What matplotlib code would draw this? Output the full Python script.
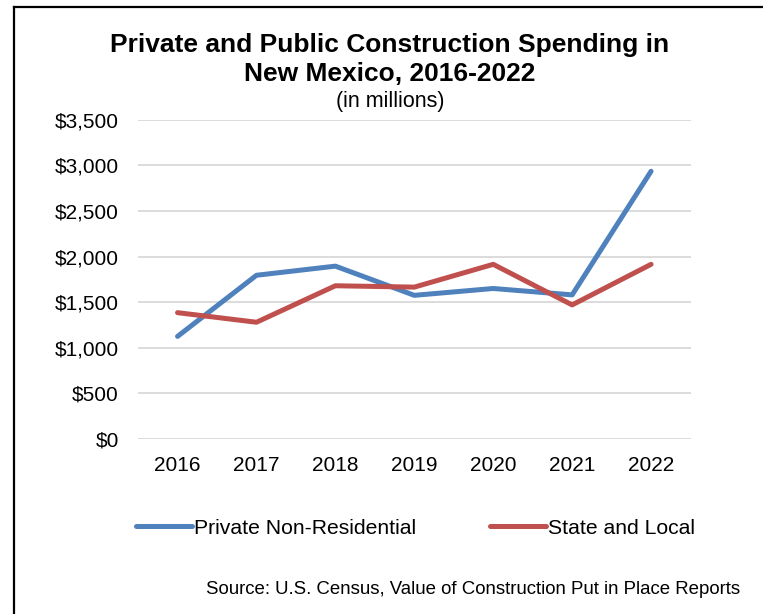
import matplotlib
matplotlib.use("Agg")
import matplotlib.pyplot as plt
from matplotlib.lines import Line2D
from matplotlib.ticker import FuncFormatter

plt.rcParams["font.family"] = ["Liberation Sans", "DejaVu Sans"]

years = ["2016", "2017", "2018", "2019", "2020", "2021", "2022"]
private_nonres = [1125, 1795, 1895, 1575, 1650, 1580, 2935]
state_local = [1385, 1280, 1680, 1665, 1915, 1470, 1915]

BLUE = "#4F81BD"
RED = "#C0504D"

fig = plt.figure(figsize=(7.63, 6.14), dpi=100)
ax = fig.add_axes([0.181, 0.285, 0.724, 0.52])

x = range(len(years))
ax.plot(x, private_nonres, color=BLUE, lw=3.6, solid_capstyle="round",
        label="Private Non-Residential")
ax.plot(x, state_local, color=RED, lw=3.6, solid_capstyle="round",
        label="State and Local")

ax.set_xlim(-0.5, len(years) - 0.5)
ax.set_ylim(0, 3500)
ax.set_yticks(range(0, 3501, 500))
ax.yaxis.set_major_formatter(FuncFormatter(lambda v, _: f"${v:,.0f}"))
ax.set_xticks(list(x))
ax.set_xticklabels(years)
ax.tick_params(axis="both", length=0, labelsize=15, colors="black")
ax.tick_params(axis="y", pad=14)
ax.tick_params(axis="x", pad=12)
ax.grid(axis="y", color="#D9D9D9", lw=1.3)
ax.set_axisbelow(True)
for s in ax.spines.values():
    s.set_visible(False)

fig.text(0.511, 0.903, "Private and Public Construction Spending in\nNew Mexico, 2016-2022",
         ha="center", va="center", fontsize=19, fontweight="bold", linespacing=1.26)
fig.text(0.512, 0.835, "(in millions)", ha="center", va="center", fontsize=15.5)

fig.legend(loc="center", bbox_to_anchor=(0.545, 0.14), ncol=2, frameon=False,
           fontsize=15.2, handlelength=2.65, handletextpad=0.1, columnspacing=3.5)

fig.text(0.97, 0.04, "Source: U.S. Census, Value of Construction Put in Place Reports",
         ha="right", va="center", fontsize=13.4)

# outer frame (only top and left edges visible)
fig.add_artist(Line2D([0.018, 1.0], [0.988, 0.988], color="black", lw=1.6,
                      transform=fig.transFigure))
fig.add_artist(Line2D([0.018, 0.018], [0.0, 0.988], color="black", lw=1.6,
                      transform=fig.transFigure))

fig.savefig("out.png", dpi=100)
